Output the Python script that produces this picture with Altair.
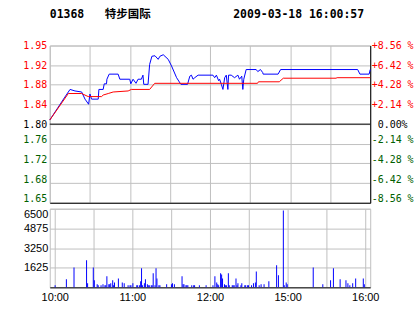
import altair as alt
import pandas as pd

prev_close = 1.80

code = "01368"
name = "特步国际"
stamp = "2009-03-18 16:00:57"

# minutes since 10:00 on the 240-minute trading axis (10:00-12:30, 14:30-16:00)
blue_min = [0, 11.3, 15.2, 18.9, 23.9, 26.4, 29.1, 30.1, 31.3, 36.3, 36.8, 40.0, 40.8, 42.5,
            42.8, 44.5, 51.2, 52.5, 59.9, 60.7, 62.4, 64.6, 66.1, 68.6, 69.8, 70.4, 73.6,
            74.8, 76.5, 78.8, 81.2, 82.5, 85.0, 88.7, 91.2, 95.0, 98.2, 103.2, 104.9, 106.1,
            107.3, 108.6, 111.1, 122.2, 123.5, 124.8, 126.5, 127.2, 128.5, 129.7, 131.0,
            132.2, 133.4, 133.9, 135.9, 138.4, 140.9, 142.1, 143.8, 144.6, 145.3, 147.1,
            154.6, 155.8, 157.8, 159.5, 159.8, 171.0, 172.9, 230.6, 232.3, 239.2, 240]
blue_px = [1.808, 1.853, 1.868, 1.865, 1.863, 1.849, 1.839, 1.859, 1.849, 1.849, 1.868, 1.868,
           1.879, 1.879, 1.888, 1.898, 1.898, 1.888, 1.888, 1.879, 1.888, 1.880, 1.888, 1.888,
           1.896, 1.878, 1.878, 1.917, 1.933, 1.934, 1.927, 1.933, 1.936, 1.927, 1.914, 1.891,
           1.878, 1.878, 1.894, 1.896, 1.888, 1.891, 1.896, 1.896, 1.891, 1.896, 1.885, 1.888,
           1.878, 1.868, 1.891, 1.896, 1.868, 1.896, 1.896, 1.891, 1.896, 1.888, 1.894, 1.868,
           1.888, 1.907, 1.907, 1.903, 1.907, 1.901, 1.898, 1.898, 1.907, 1.907, 1.898, 1.898,
           1.907]

red_min = [0, 13.9, 23.9, 28.8, 38.8, 40.0, 43.8, 47.5, 58.7, 61.1, 74.8, 78.6, 155.6, 156.3,
           171.9, 174.9, 214.4, 215.2, 240]
red_px = [1.808, 1.860, 1.860, 1.854, 1.854, 1.857, 1.860, 1.863, 1.865, 1.868, 1.868, 1.880,
          1.880, 1.883, 1.883, 1.890, 1.890, 1.891, 1.891]

vol_min = [0.3, 9.0, 14.9, 24.6, 25.4, 29.8, 30.6, 32.8, 33.6, 35.8, 37.3, 38.8, 39.5, 40.3,
           41.8, 42.5, 43.3, 44.8, 45.5, 46.2, 49.2, 52.2, 53.7, 56.7, 58.2, 58.9, 60.4, 63.4,
           64.1, 65.6, 66.4, 67.1, 67.9, 69.3, 70.1, 71.6, 72.3, 73.1, 74.6, 75.3, 76.1, 77.5,
           78.3, 79.0, 80.5, 81.3, 86.5, 90.2, 91.0, 92.5, 98.4, 99.2, 99.9, 101.4, 102.1,
           102.9, 105.9, 107.4, 108.1, 111.8, 117.0,
           122.3, 123.8, 125.2, 126.0, 126.7, 128.2, 129.0, 129.7, 131.2, 131.9, 132.7, 134.2,
           134.9, 137.2, 137.9, 138.7, 140.1, 140.9, 141.6, 143.9, 144.6, 146.9, 147.6, 149.1,
           149.8, 152.1, 153.6, 155.1, 155.8, 158.0, 159.5, 161.8, 165.5, 171.5, 172.9, 176.7,
           177.4, 178.9, 179.7, 199.8, 207.2, 213.2, 215.4, 220.6, 225.1, 226.6, 228.1, 230.3,
           232.6, 238.5, 239.3]
vol_qty = [165, 660, 1650, 2230, 330, 1650, 580, 250, 165, 165, 250, 165, 165, 910,
           250, 250, 330, 580, 165, 410, 740, 410, 330, 165, 165, 165, 330, 165,
           165, 165, 500, 1570, 165, 330, 660, 250, 165, 165, 165, 165, 1160, 165,
           1570, 740, 165, 165, 250, 250, 330, 250, 910, 250, 250, 165, 165,
           165, 165, 165, 165, 165, 165,
           165, 910, 410, 250, 165, 1160, 1070, 740, 250, 165, 165, 1160,
           165, 165, 165, 165, 740, 165, 330, 165, 330, 165, 165, 165,
           165, 165, 330, 410, 1320, 165, 250, 250, 500, 1820, 990, 6360,
           165, 410, 250, 1650, 250, 580, 1570, 660, 580, 330, 165, 330,
           740, 740, 250]

pct_ticks = [-8.56, -6.42, -4.28, -2.14, 0.0, 2.14, 4.28, 6.42, 8.56]
vol_ticks = [1625, 3250, 4875, 6500]
time_ticks = [0, 30, 60, 90, 120, 150, 180, 210, 240]
time_labels = ["10:00", "", "11:00", "", "12:00", "", "15:00", "", "16:00"]

price_ticks = [prev_close * (1 + p / 100) for p in pct_ticks]
y_domain = [price_ticks[0], price_ticks[-1]]

blue_df = pd.DataFrame({"m": blue_min, "p": blue_px})
red_df = pd.DataFrame({"m": red_min, "p": red_px})
vol_df = pd.DataFrame({"m": vol_min, "v": vol_qty})
ref_df = pd.DataFrame({"p": [prev_close]})

GRID = "#C0C0C0"
RED = "#FF0000"
GREEN = "#006000"
BLUE = "#0000FF"
MONO = "DejaVu Sans Mono"
SANS = "Liberation Sans"

label_color = {
    "condition": [
        {"test": f"datum.value > {prev_close + 0.0005}", "value": RED},
        {"test": f"datum.value < {prev_close - 0.0005}", "value": GREEN},
    ],
    "value": "#000000",
}
label_shift = {
    "condition": {"test": f"datum.value < {prev_close - 0.0005}", "value": -4},
    "value": 0,
}

x_scale = alt.Scale(domain=[0, 240], nice=False, zero=False)
y_scale = alt.Scale(domain=y_domain, nice=False, zero=False)

x_price_axis = alt.Axis(values=time_ticks, labels=False, ticks=False, grid=True,
                        gridColor=GRID, gridWidth=1, domainColor="#000000", domainWidth=1,
                        title=None)
x_price = alt.X("m:Q", scale=x_scale, axis=x_price_axis, title=None)

left_axis = alt.Axis(values=price_ticks, format=".2f", orient="left", labelFont=MONO,
                     labelFontSize=10, labelColor=label_color, labelOffset=label_shift,
                     labelPadding=3, ticks=False,
                     domain=False, grid=True, gridColor=GRID, gridWidth=1, labelFlush=False,
                     labelOverlap=False, title=None)

pct_expr = (
    f"abs(datum.value/{prev_close}-1) < 0.00005 ? '\u200b\u00a00.00%' : "
    f"(datum.value > {prev_close} ? '+' : '-') + format(abs(datum.value/{prev_close}-1)*100, '.2f') + ' %'"
)
right_axis = alt.Axis(values=price_ticks, orient="right", labelExpr=pct_expr, labelFont=MONO,
                      labelFontSize=10, labelColor=label_color, labelOffset=label_shift,
                      labelPadding=1, labelAlign="left",
                      ticks=False, domain=True, domainColor="#000000", domainWidth=1, grid=False,
                      labelFlush=False, labelOverlap=False, title=None)

blue_line = alt.Chart(blue_df).mark_line(color=BLUE, strokeWidth=1).encode(
    x=x_price, y=alt.Y("p:Q", scale=y_scale, axis=left_axis, title=None))
red_line = alt.Chart(red_df).mark_line(color=RED, strokeWidth=1).encode(
    x=x_price, y=alt.Y("p:Q", scale=y_scale, axis=left_axis, title=None))
zero_rule = alt.Chart(ref_df).mark_rule(color="#000000", strokeWidth=1).encode(
    y=alt.Y("p:Q", scale=y_scale, axis=right_axis, title=None))

title_text = code + "\u00a0\u00a0\u00a0" + name + "\u00a0" * 12 + stamp
price = alt.layer(alt.layer(blue_line, red_line), zero_rule).resolve_scale(
    y="independent").properties(
    width=322, height=158,
    title=alt.TitleParams(text=title_text, anchor="start", frame="group",
                          font=f"{MONO}, Noto Sans CJK SC", fontSize=11.5, fontWeight="bold",
                          color="#000000", offset=11, baseline="alphabetic"))

time_expr = "[" + ",".join(f"'{t}'" for t in time_labels) + "][indexof([" + \
    ",".join(str(t) for t in time_ticks) + "], datum.value)]"
x_vol_axis = alt.Axis(values=time_ticks, labelExpr=time_expr, labelFont=SANS, labelFontSize=11,
                      labelColor="#000000", labelPadding=4, ticks=False, grid=True,
                      gridColor=GRID, gridWidth=1, domainColor="#000000", domainWidth=1,
                      labelFlush=False, labelOverlap=False, title=None)
vol_axis = alt.Axis(values=vol_ticks, format="d", labelFont=SANS, labelFontSize=11,
                    labelColor="#000000", labelPadding=2, ticks=False, domain=False, grid=True,
                    gridColor=GRID, gridWidth=1, labelFlush=True, labelOverlap=False, title=None)

volume = alt.Chart(vol_df).mark_bar(color=BLUE, size=1).encode(
    x=alt.X("m:Q", scale=x_scale, axis=x_vol_axis, title=None),
    y=alt.Y("v:Q", scale=alt.Scale(domain=[0, 6500], nice=False), axis=vol_axis, title=None),
).properties(width=322, height=79)

chart = alt.vconcat(price, volume, spacing=6, bounds="flush").properties(
    padding={"left": 22, "top": 8, "right": 0, "bottom": 0},
    background="#FFFFFF",
).configure_view(stroke=GRID, strokeWidth=1)

chart.save("out.html", embed_options={"renderer": "svg", "actions": False})
